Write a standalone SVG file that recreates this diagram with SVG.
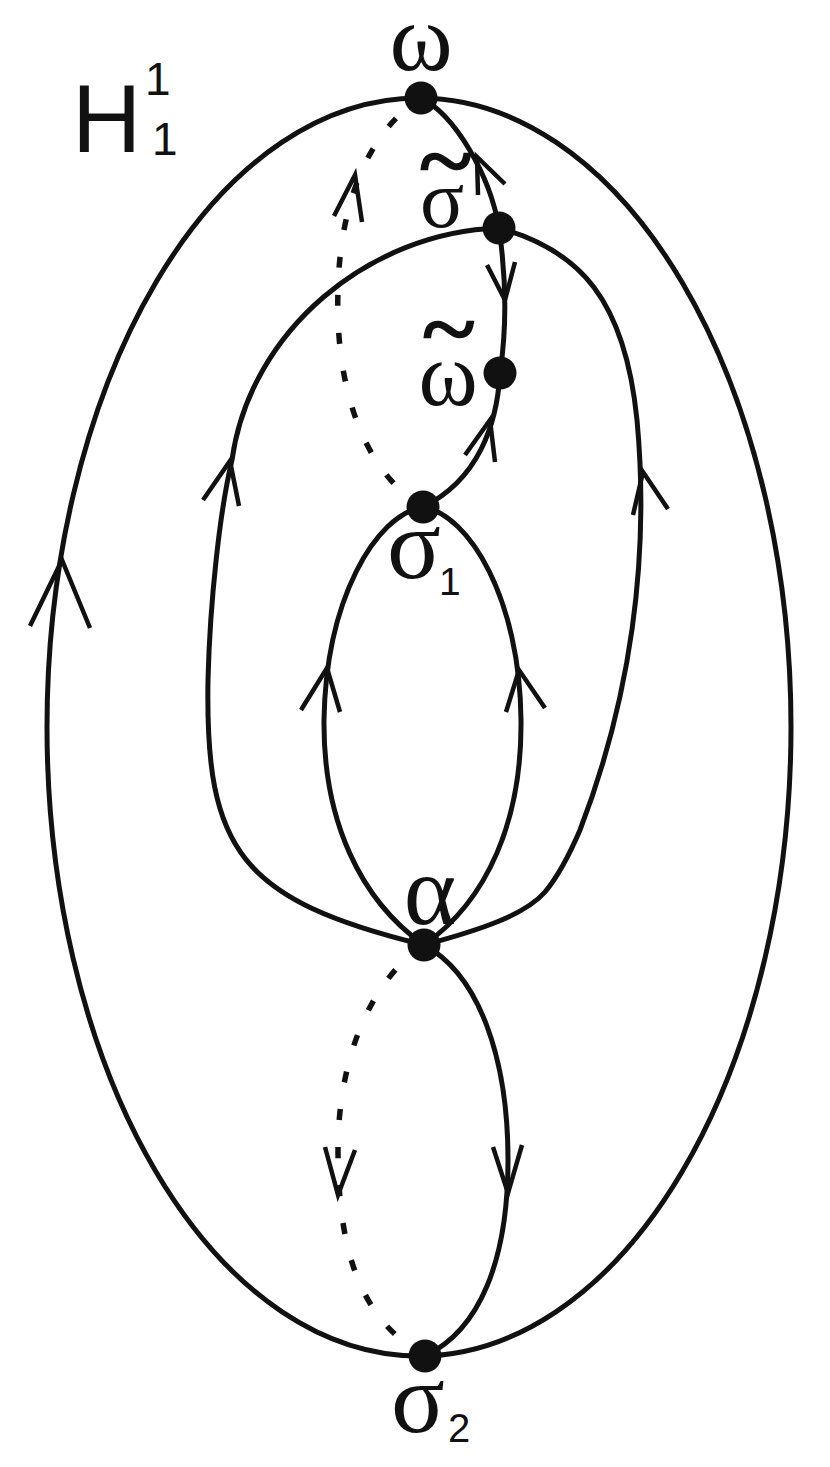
<svg xmlns="http://www.w3.org/2000/svg" width="830" height="1467" viewBox="0 0 830 1467">
<style>
.c{fill:none;stroke:#111;stroke-width:5}
.d{fill:none;stroke:#111;stroke-width:5.5;stroke-dasharray:11 27}
.a{fill:none;stroke:#111;stroke-width:4.5;stroke-linejoin:miter;stroke-miterlimit:10}
.n{fill:#111}
.g{font-family:"Liberation Serif","DejaVu Serif",serif;fill:#111;text-anchor:middle}
.t{font-family:"Liberation Serif","DejaVu Serif",serif;fill:#111;stroke:#111;stroke-width:2.5;text-anchor:middle}
.s{font-family:"Liberation Sans",Arial,sans-serif;fill:#111}
</style>
<rect width="830" height="1467" fill="#fff"/>
<g id="connectors">
  <ellipse class="c" cx="419" cy="727" rx="372" ry="629"/>
  <path class="c" d="M499,228 C370,232 250,330 232,460 C220,510 210,600 208,680 C205,850 240,900 424,945"/>
  <path class="c" d="M499,228 C580,250 625,300 637,420 C650,560 630,700 580,830 C565,865 555,880 545,892 C525,915 480,930 424,945"/>
  <path class="c" d="M423,507 C375,515 326,600 324,720 C323,820 360,900 424,945"/>
  <path class="c" d="M423,507 C470,515 520,600 521,720 C522,820 488,900 424,945"/>
  <path class="c" d="M421,98 C455,115 490,175 499,228"/>
  <path class="c" d="M499,228 C505,270 508,320 500,373"/>
  <path class="c" d="M500,373 C497,425 478,480 423,507"/>
  <path class="c" d="M424,945 C480,975 508,1060 508,1160 C508,1260 480,1330 425,1356"/>
  <path class="d" d="M423,507 C360,470 335,380 338,290 C340,200 370,130 421,98"/>
  <path class="d" d="M424,945 C370,980 338,1060 338,1150 C338,1250 360,1320 425,1356"/>
  <polyline class="a" points="30,626 62,560 90,628"/>
  <polyline class="a" points="203,500 230,461 239,506"/>
  <polyline class="a" points="633,515 643,472 668,509"/>
  <polyline class="a" points="301,710 327,668 340,712"/>
  <polyline class="a" points="506,712 519,670 545,708"/>
  <polyline class="a" points="478,195 477,157 505,184"/>
  <polyline class="a" points="487,265 505,300 515,262"/>
  <polyline class="a" points="465,455 490,420 495,462"/>
  <polyline class="a" points="334,216 355,175 362,222"/>
  <polyline class="a" points="325,1147 338,1195 355,1150"/>
  <polyline class="a" points="493,1147 508,1193 522,1145"/>
</g>
<g id="omega">
  <circle class="n" cx="421" cy="98" r="16.5"/>
  <text class="g" x="421" y="70" font-size="96">ω</text>
</g>
<g id="sigma-tilde">
  <circle class="n" cx="499" cy="228" r="16.5"/>
  <text class="g" x="442" y="227" font-size="82">σ</text>
  <text class="t" transform="translate(446,191) scale(1.12,1)" x="0" y="0" font-size="88">~</text>
</g>
<g id="omega-tilde">
  <circle class="n" cx="500" cy="373" r="16.5"/>
  <text class="g" x="448" y="405" font-size="90">ω</text>
  <text class="t" transform="translate(449,359) scale(1.12,1)" x="0" y="0" font-size="88">~</text>
</g>
<g id="sigma1">
  <circle class="n" cx="423" cy="507" r="16.5"/>
  <text class="g" x="414" y="578" font-size="100">σ</text>
  <text class="s" x="439" y="595" font-size="39">1</text>
</g>
<g id="alpha">
  <circle class="n" cx="424" cy="945" r="16.5"/>
  <text class="g" x="430" y="924" font-size="100">α</text>
</g>
<g id="sigma2">
  <circle class="n" cx="425" cy="1356" r="16.5"/>
  <text class="g" x="418" y="1432" font-size="100">σ</text>
  <text class="s" x="448" y="1442" font-size="40">2</text>
</g>
<g id="title">
  <text class="s" x="72" y="152" font-size="96">H</text>
  <text class="s" x="145" y="95" font-size="46">1</text>
  <text class="s" x="152" y="155" font-size="46">1</text>
</g>
</svg>
